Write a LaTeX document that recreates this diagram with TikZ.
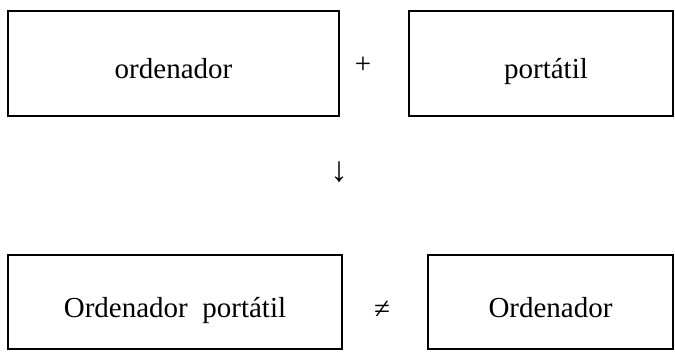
\documentclass[tikz,border=0pt]{standalone}
\usepackage{fontspec}
\setmainfont{Liberation Serif}
\begin{document}
\begin{tikzpicture}[x=1pt,y=-1pt,
  txt/.style={font=\fontsize{29}{34}\selectfont},
  box/.style={txt, draw, line width=2.6pt, inner sep=0pt},
  toprow/.style={minimum height=105pt, text height=29pt, text depth=0pt},
  botrow/.style={minimum height=94pt, text height=30pt, text depth=0pt},
  sym/.style={txt, inner sep=0pt}]
\useasboundingbox (0,0) rectangle (675,351);
\node[box, toprow, minimum width=331pt] (a) at (173.5,63.5) {ordenador};
\node[sym] (plus) at (363,65) {+};
\node[box, toprow, minimum width=264pt] (b) at (541,63.5) {\hspace*{10pt}portátil};
\node[sym, font=\fontsize{35}{40}\selectfont] (arrow) at (339,172.5) {↓};
\node[box, botrow, minimum width=334pt] (c) at (175,302) {Ordenador\ \ portátil};
\node[sym] (neq) at (382,310) {≠};
\node[box, botrow, minimum width=245pt] (d) at (550.5,302) {Ordenador};
\end{tikzpicture}
\end{document}
